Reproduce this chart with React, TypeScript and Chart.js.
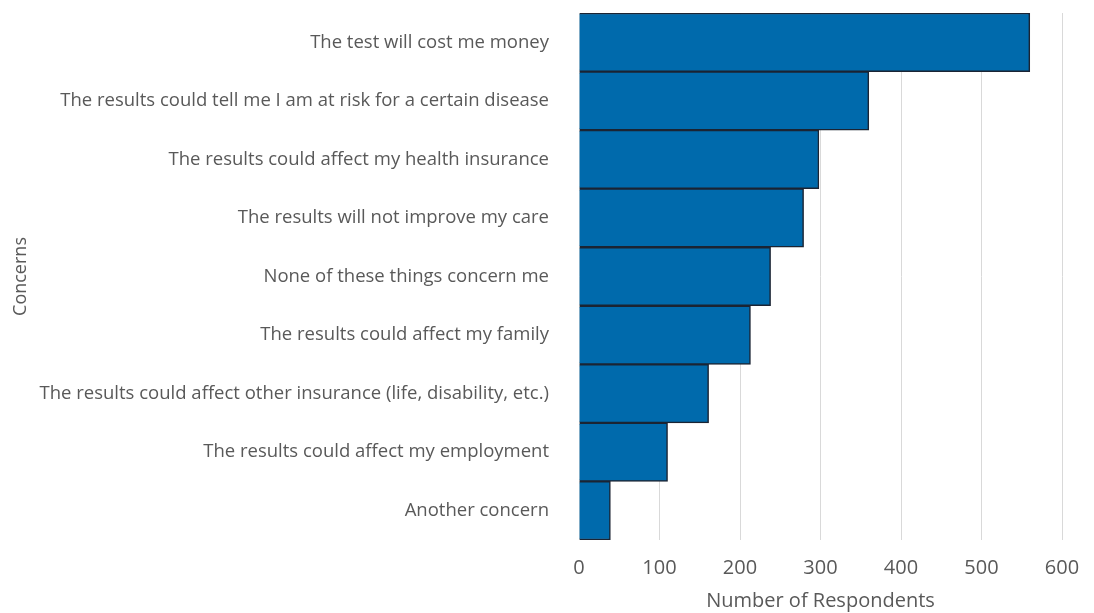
import React, { useEffect, useRef } from "react";
import { Chart, registerables } from "chart.js";

Chart.register(...registerables);

const categories = [
  "The test will cost me money",
  "The results could tell me I am at risk for a certain disease",
  "The results could affect my health insurance",
  "The results will not improve my care",
  "None of these things concern me",
  "The results could affect my family",
  "The results could affect other insurance (life, disability, etc.)",
  "The results could affect my employment",
  "Another concern",
];
const respondents = [560, 360, 298, 279, 238, 213, 161, 110, 39];
const xTicks = [0, 100, 200, 300, 400, 500, 600];
const xTitle = "Number of Respondents";
const yTitle = "Concerns";

const FONT = "'Open Sans', 'Noto Sans', sans-serif";
const TEXT = "#595959";

export default function App() {
  const ref = useRef<HTMLCanvasElement | null>(null);
  useEffect(() => {
    if (!ref.current) return;
    const chart = new Chart(ref.current, {
      type: "bar",
      data: {
        labels: categories,
        datasets: [
          {
            data: respondents,
            backgroundColor: "#006AAC",
            borderColor: "#1b2433",
            borderWidth: 1.5,
            barPercentage: 1,
            categoryPercentage: 1,
          },
        ],
      },
      options: {
        indexAxis: "y",
        animation: false,
        responsive: true,
        maintainAspectRatio: false,
        layout: { padding: { top: 13, right: 32, bottom: 0, left: 0 } },
        plugins: { legend: { display: false }, tooltip: { enabled: false } },
        scales: {
          x: {
            min: 0,
            max: 600,
            afterBuildTicks: (s: any) => {
              s.ticks = xTicks.map((v) => ({ value: v }));
            },
            afterFit: (s: any) => {
              s.height = 73;
              s.paddingLeft = 0;
              s.paddingRight = 0;
            },
            grid: { color: "#d9d9d9", drawTicks: false, lineWidth: 1 },
            border: { display: false },
            ticks: { color: TEXT, font: { family: FONT, size: 20 }, padding: 16 },
            title: {
              display: true,
              text: xTitle,
              color: TEXT,
              font: { family: FONT, size: 20 },
              padding: { top: 0, bottom: 0 },
            },
          },
          y: {
            afterFit: (s: any) => {
              s.width = 579;
              s.paddingTop = 0;
              s.paddingBottom = 0;
            },
            grid: { display: false, drawTicks: false },
            border: { display: false },
            ticks: { color: TEXT, font: { family: FONT, size: 18.5 }, padding: 30 },
            title: {
              display: true,
              text: yTitle,
              color: TEXT,
              font: { family: FONT, size: 18 },
              padding: { top: 10, bottom: 0 },
            },
          },
        },
      },
    });
    return () => chart.destroy();
  }, []);
  return (
    <div style={{ position: "fixed", left: 0, top: 0, width: 1094, height: 613, background: "#fff" }}>
      <canvas ref={ref} />
    </div>
  );
}
